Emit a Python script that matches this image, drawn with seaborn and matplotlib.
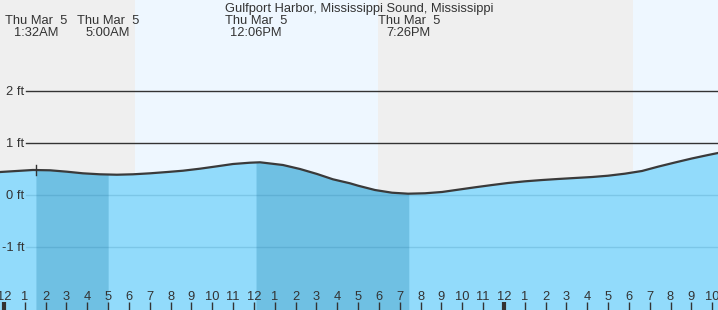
import matplotlib
matplotlib.use("Agg")
import matplotlib.pyplot as plt
import matplotlib.transforms as mtransforms
import numpy as np
import pandas as pd
import seaborn as sns

# ---- data ----
title = "Gulfport Harbor, Mississippi Sound, Mississippi"
hours = [-0.5, -0.19, 1.39, 2.21, 3.02, 3.79, 4.61, 5.42, 6.19, 7.01, 7.83, 8.59,
         9.41, 10.23, 10.99, 11.81, 12.29, 13.39, 14.21, 15.03, 15.79, 16.61,
         17.0, 17.81, 18.63, 19.40, 20.21, 21.03, 21.80, 22.61, 23.43, 24.20,
         25.01, 25.83, 26.60, 27.41, 28.23, 29.00, 29.81, 30.63, 31.40, 32.21,
         33.03, 33.80, 34.28, 34.6]
level_ft = [0.43, 0.442, 0.481, 0.475, 0.448, 0.417, 0.398, 0.390, 0.398, 0.417,
            0.442, 0.467, 0.506, 0.552, 0.596, 0.621, 0.629, 0.577, 0.500, 0.404,
            0.302, 0.225, 0.179, 0.096, 0.044, 0.025, 0.033, 0.058, 0.102, 0.148,
            0.192, 0.231, 0.263, 0.288, 0.308, 0.327, 0.346, 0.371, 0.410, 0.462,
            0.545, 0.625, 0.703, 0.769, 0.808, 0.83]
event_hours = [1.533, 5.0, 12.1, 19.433]
event_labels = ["Thu Mar  5\n1:32AM", "Thu Mar  5\n5:00AM",
                "Thu Mar  5\n12:06PM", "Thu Mar  5\n7:26PM"]
shade_spans = [(1.533, 5.0), (12.1, 19.433)]
night_spans = [(-1, 6.29), (17.95, 30.2)]
day_spans = [(6.29, 17.95), (30.2, 35)]
ytick_vals = [2, 1, 0, -1]
ytick_labels = ["2 ft", "1 ft", "0 ft", "-1 ft"]
hour_ticks = list(range(0, 35))
hour_labels = [str(12 if h % 12 == 0 else h % 12) for h in hour_ticks]
midnights = [0, 24]
marker_hour = 1.533

df = pd.DataFrame({"hour": hours, "ft": level_ft})

W, H = 718, 310
fig = plt.figure(figsize=(W / 100, H / 100), dpi=100)
ax = fig.add_axes([0, 0, 1, 1])
x0, x1 = -4 / 20.83, 714 / 20.83
y0, y1 = (195 - 310) / 52, 195 / 52
ax.set_xlim(x0, x1)
ax.set_ylim(y0, y1)
ax.axis("off")

font = ["Liberation Sans", "DejaVu Sans"]
txtc = "#333333"
fs = 9.3

# backgrounds
for a, b in night_spans:
    ax.axvspan(a, b, color="#efefef", zorder=0, lw=0)
for a, b in day_spans:
    ax.axvspan(a, b, color="#eef7ff", zorder=0, lw=0)

# water
hx = np.array(hours)
hy = np.array(level_ft)
ax.fill_between(hx, y0 - 1, hy, color="#92dbfb", lw=0, zorder=1)
for a, b in shade_spans:
    m = (hx >= a) & (hx <= b)
    xs = np.concatenate([[a], hx[m], [b]])
    ys = np.interp(xs, hx, hy)
    ax.fill_between(xs, y0 - 1, ys, color="#6fc0e3", lw=0, zorder=1.5)

# gridlines
blend = mtransforms.blended_transform_factory(ax.transAxes, ax.transData)
gx0 = 26 / W
for v, lab in zip(ytick_vals, ytick_labels):
    if v > 0:
        ax.plot([gx0, 1], [v, v], color="#333333", lw=1, transform=blend, zorder=2)
    else:
        ax.plot([gx0, 1], [v, v], color="#1a6a90", lw=1, alpha=0.18,
                transform=blend, zorder=2)
    ax.text(24 / W, v - 0.025, lab, transform=blend, ha="right", va="center",
            fontsize=fs, color=txtc, family=font, zorder=5)

# curve
sns.lineplot(data=df, x="hour", y="ft", ax=ax, color="#3a3a3a", lw=1.6,
             zorder=4, legend=False)
mv = np.interp(marker_hour, hx, hy)
ax.plot([marker_hour, marker_hour], [mv - 0.1, mv + 0.1], color="#333333",
        lw=1, zorder=4)

# top labels
blendx = mtransforms.blended_transform_factory(ax.transData, ax.transAxes)
ax.text(359 / W, 1 - 9 / H, title, transform=ax.transAxes, ha="center",
        va="center", fontsize=fs, color=txtc, family=font, zorder=5)
for eh, lab in zip(event_hours, event_labels):
    ax.text(eh, 1 - 27 / H, lab, transform=blendx, ha="center", va="center",
            fontsize=fs, color=txtc, family=font, linespacing=0.93, zorder=5)

# bottom hour labels and ticks
for h, lab in zip(hour_ticks, hour_labels):
    ax.text(h, 12.5 / H, lab, transform=blendx, ha="center", va="center",
            fontsize=fs, color=txtc, family=font, zorder=5)
    lw = 3 if h in midnights else 1
    ax.plot([h, h], [0, 8 / H], transform=blendx, color="#333333", lw=lw,
            zorder=5, solid_capstyle="butt")

fig.savefig("out.png", dpi=100)
